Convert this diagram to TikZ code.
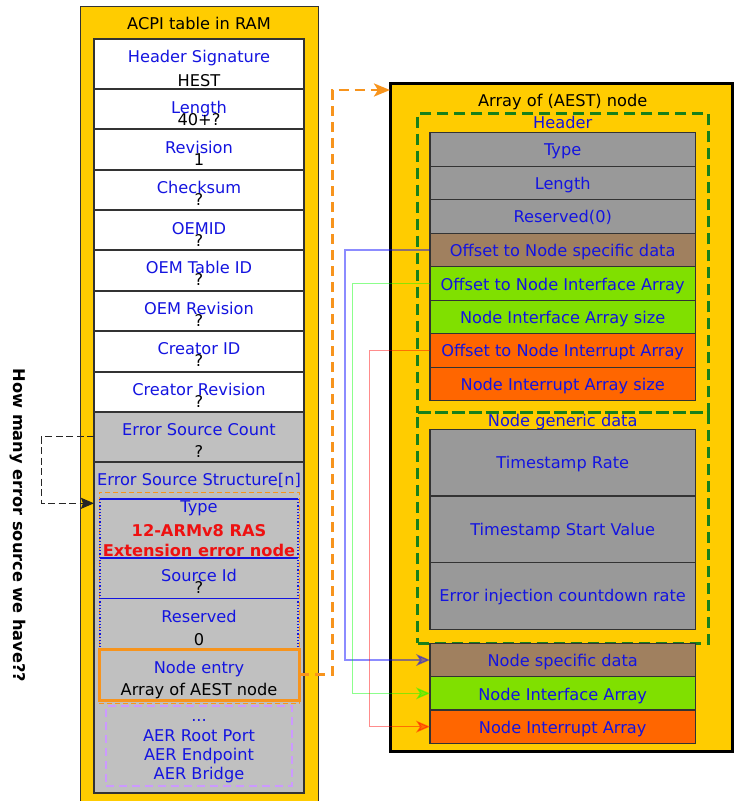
\documentclass[tikz,border=0pt]{standalone}
\usepackage{fontspec}
\setmainfont{DejaVu Sans}
\usetikzlibrary{arrows.meta}

\definecolor{tblyellow}{HTML}{FFCC00}
\definecolor{framegray}{HTML}{333333}
\definecolor{lightgray}{HTML}{C0C0C0}
\definecolor{midgray}{HTML}{999999}
\definecolor{fieldbrown}{HTML}{A0805F}
\definecolor{fieldlime}{HTML}{80E000}
\definecolor{fieldorange}{HTML}{FF6600}
\definecolor{txtblue}{HTML}{1414E0}
\definecolor{txtred}{HTML}{EE1111}
\definecolor{linkorange}{HTML}{F7941D}
\definecolor{grpgreen}{HTML}{18801A}
\definecolor{aerpurple}{HTML}{CC99FF}

\begin{document}
\begin{tikzpicture}[x=1pt,y=-1pt,
  font=\fontsize{16.2}{19}\selectfont,
  every node/.style={inner sep=0pt, outer sep=0pt},
  field/.style={draw=framegray, line width=1.1pt, anchor=north west},
  plain/.style={anchor=north west},
  lbl/.style={anchor=base, text=txtblue},
  val/.style={anchor=base, text=black},
  grp/.style={draw=grpgreen, line width=2.6pt, dash pattern=on 11pt off 6pt, anchor=north west},
  link/.style={line width=1.4pt, opacity=0.45, -{Stealth[length=14pt,width=12pt,inset=4pt]}},
]
\useasboundingbox (0,0) rectangle (734,801);

% ---------------- ACPI table (left column) ----------------
\node[draw=framegray, line width=1pt, fill=tblyellow, plain,
      minimum width=238pt, minimum height=795pt] (acpi) at (80,6) {};
\node[val] (acpititle) at (199,29.3) {ACPI table in RAM};

\node[field, fill=white, minimum width=210pt, minimum height=50pt] (sig)    at (94,39)  {};
\node[field, fill=white, minimum width=210pt, minimum height=40pt] (len)    at (94,89)  {};
\node[field, fill=white, minimum width=210pt, minimum height=41pt] (rev)    at (94,129) {};
\node[field, fill=white, minimum width=210pt, minimum height=40pt] (chk)    at (94,170) {};
\node[field, fill=white, minimum width=210pt, minimum height=40pt] (oemid)  at (94,210) {};
\node[field, fill=white, minimum width=210pt, minimum height=41pt] (tblid)  at (94,250) {};
\node[field, fill=white, minimum width=210pt, minimum height=40pt] (oemrev) at (94,291) {};
\node[field, fill=white, minimum width=210pt, minimum height=41pt] (crid)   at (94,331) {};
\node[field, fill=white, minimum width=210pt, minimum height=40pt] (crrev)  at (94,372) {};
\node[field, fill=lightgray, minimum width=210pt, minimum height=50pt] (escnt) at (94,412) {};
\node[field, fill=lightgray, minimum width=210pt, minimum height=331pt] (esstr) at (94,462) {};
\draw[framegray, line width=2.2pt] (chk.north west) -- (chk.north east);
\draw[framegray, line width=2.2pt] (chk.south west) -- (chk.south east);

\node[lbl] at (199,62)    {Header Signature};   \node[val] at (199,86)    {HEST};
\node[lbl] at (199,113)   {Length};             \node[val] at (199,125)   {40+?};
\node[lbl] at (199,153)   {Revision};           \node[val] at (199,165)   {1};
\node[lbl] at (199,193.3) {Checksum};           \node[val] at (199,205)   {?};
\node[lbl] at (199,234)   {OEMID};              \node[val] at (199,246)   {?};
\node[lbl] at (199,273.5) {OEM Table ID};       \node[val] at (199,285.5) {?};
\node[lbl] at (199,314)   {OEM Revision};       \node[val] at (199,326)   {?};
\node[lbl] at (199,354.5) {Creator ID};         \node[val] at (199,366.5) {?};
\node[lbl] at (199,395)   {Creator Revision};   \node[val] at (199,407)   {?};
\node[lbl] at (199,435)   {Error Source Count}; \node[val] at (199,457)   {?};
\node[lbl] at (199,485)   {Error Source Structure[n]};

% error source structure entry
\node[draw=linkorange, line width=0.9pt, dash pattern=on 5pt off 3pt, plain,
      minimum width=200pt, minimum height=211pt] (esinner) at (99,492) {};
\node[plain, minimum width=198pt, minimum height=59pt]   (typef) at (100,499)   {};
\node[plain, minimum width=198pt, minimum height=40.5pt] (srcid) at (100,558)   {};
\node[plain, minimum width=198pt, minimum height=50.5pt] (resv)  at (100,598.5) {};
\draw[txtblue, line width=1.4pt] (typef.north west) -- (typef.north east);
\draw[txtblue, line width=2.6pt] (typef.south west) -- (typef.south east);
\draw[txtblue, line width=1.2pt] (srcid.south west) -- (srcid.south east);
\draw[txtblue, line width=1.2pt, dotted] (typef.north west) -- (resv.south west);
\draw[txtblue, line width=1.2pt, dotted] (typef.north east) -- (resv.south east);

\node[lbl] at (199,512.3) {Type};
\node[anchor=base, text=txtred, font=\fontsize{16.2}{19}\selectfont\bfseries] at (199,536.7) {12-ARMv8 RAS};
\node[anchor=base, text=txtred, font=\fontsize{16.2}{19}\selectfont\bfseries] at (199,556) {Extension error node};
\node[lbl] at (199,581.7) {Source Id};  \node[val] at (199,593.3) {?};
\node[lbl] at (199,622.3) {Reserved};   \node[val] at (199,645.7) {0};

\node[draw=linkorange, line width=3pt, plain, minimum width=200pt, minimum height=51pt] (entry) at (99,649) {};
\node[lbl] at (199,673.3) {Node entry};
\node[val] at (199,695) {Array of AEST node};

\node[draw=aerpurple, line width=1.8pt, dash pattern=on 8pt off 5pt, plain,
      minimum width=186pt, minimum height=80pt] (aer) at (106,706) {};
\node[lbl] at (199,721.7) {...};
\node[lbl] at (199,741.7) {AER Root Port};
\node[lbl] at (199,760.7) {AER Endpoint};
\node[lbl] at (199,779.3) {AER Bridge};

% side note
\node[rotate=-90, font=\fontsize{16.2}{19}\selectfont\bfseries] (note) at (18,525.5) {How many error source we have??};

% ---------------- AEST node array (right column) ----------------
\node[draw=black, line width=2.6pt, fill=tblyellow, plain,
      minimum width=342pt, minimum height=668.4pt] (aest) at (390.7,83.3) {};
\node[val] at (562.7,106.7) {Array of (AEST) node};

\node[grp, minimum width=290.6pt, minimum height=299.4pt] (hdr) at (417.7,113.3) {};
\node[grp, minimum width=290.6pt, minimum height=230.6pt] (gen) at (417.7,412.7) {};
\node[lbl] at (562.7,128.3) {Header};
\node[lbl] at (562.7,426.7) {Node generic data};

\node[field, fill=midgray,     minimum width=265.3pt, minimum height=33.5pt] (atype)   at (430,132.7) {};
\node[field, fill=midgray,     minimum width=265.3pt, minimum height=33.5pt] (alen)    at (430,166.2) {};
\node[field, fill=midgray,     minimum width=265.3pt, minimum height=33.5pt] (ares)    at (430,199.7) {};
\node[field, fill=fieldbrown,  minimum width=265.3pt, minimum height=33.5pt] (offspec) at (430,233.2) {};
\node[field, fill=fieldlime,   minimum width=265.3pt, minimum height=33.5pt] (offnia)  at (430,266.7) {};
\node[field, fill=fieldlime,   minimum width=265.3pt, minimum height=33.5pt] (niasize) at (430,300.2) {};
\node[field, fill=fieldorange, minimum width=265.3pt, minimum height=33.5pt] (offnira) at (430,333.7) {};
\node[field, fill=fieldorange, minimum width=265.3pt, minimum height=33.5pt] (nirasize) at (430,367.2) {};

\node[lbl] at (562.7,155.7) {Type};
\node[lbl] at (562.7,189.3) {Length};
\node[lbl] at (562.7,222.7) {Reserved(0)};
\node[lbl] at (562.7,256.7) {Offset to Node specific data};
\node[lbl] at (562.7,290)   {Offset to Node Interface Array};
\node[lbl] at (562.7,323.3) {Node Interface Array size};
\node[lbl] at (562.7,356.7) {Offset to Node Interrupt Array};
\node[lbl] at (562.7,390)   {Node Interrupt Array size};

\node[field, fill=midgray, minimum width=265.3pt, minimum height=66.7pt] (tsrate)  at (430,429.3) {};
\node[field, fill=midgray, minimum width=265.3pt, minimum height=66.7pt] (tsstart) at (430,496)   {};
\node[field, fill=midgray, minimum width=265.3pt, minimum height=66.7pt] (errinj)  at (430,562.7) {};
\node[lbl] at (562.7,468.3) {Timestamp Rate};
\node[lbl] at (562.7,535)   {Timestamp Start Value};
\node[lbl] at (562.7,601.7) {Error injection countdown rate};

\node[field, fill=fieldbrown,  minimum width=265.3pt, minimum height=33.4pt] (nodespec) at (430,643.3) {};
\node[field, fill=fieldlime,   minimum width=265.3pt, minimum height=33.3pt] (nia)      at (430,676.7) {};
\node[field, fill=fieldorange, minimum width=265.3pt, minimum height=33.3pt] (nira)     at (430,710)   {};
\node[lbl] at (562.7,666.7) {Node specific data};
\node[lbl] at (562.7,700)   {Node Interface Array};
\node[lbl] at (562.7,733.3) {Node Interrupt Array};

% ---------------- connectors ----------------
\coordinate (cntin) at (94,503.3);
\coordinate (aestin) at (390,90);

\draw[black!85, line width=1.2pt, dash pattern=on 7pt off 3.5pt,
      -{Stealth[length=13pt,width=11pt,inset=2pt]}]
  (escnt.west |- 0,436.7) -- ++(-52.7,0) |- (cntin);

\draw[linkorange, line width=2.8pt, dash pattern=on 10pt off 6pt,
      -{Stealth[length=16pt,width=13pt,inset=4pt]}]
  (entry.east) -- ([xshift=33.3pt]entry.east) |- (aestin);

\draw[link, blue]  (offspec.west) -- ([xshift=-85pt]offspec.west) |- (nodespec.west);
\draw[link, green] (offnia.west)  -- ([xshift=-77.7pt]offnia.west) |- (nia.west);
\draw[link, red]   (offnira.west) -- ([xshift=-60.7pt]offnira.west) |- (nira.west);

\end{tikzpicture}
\end{document}
